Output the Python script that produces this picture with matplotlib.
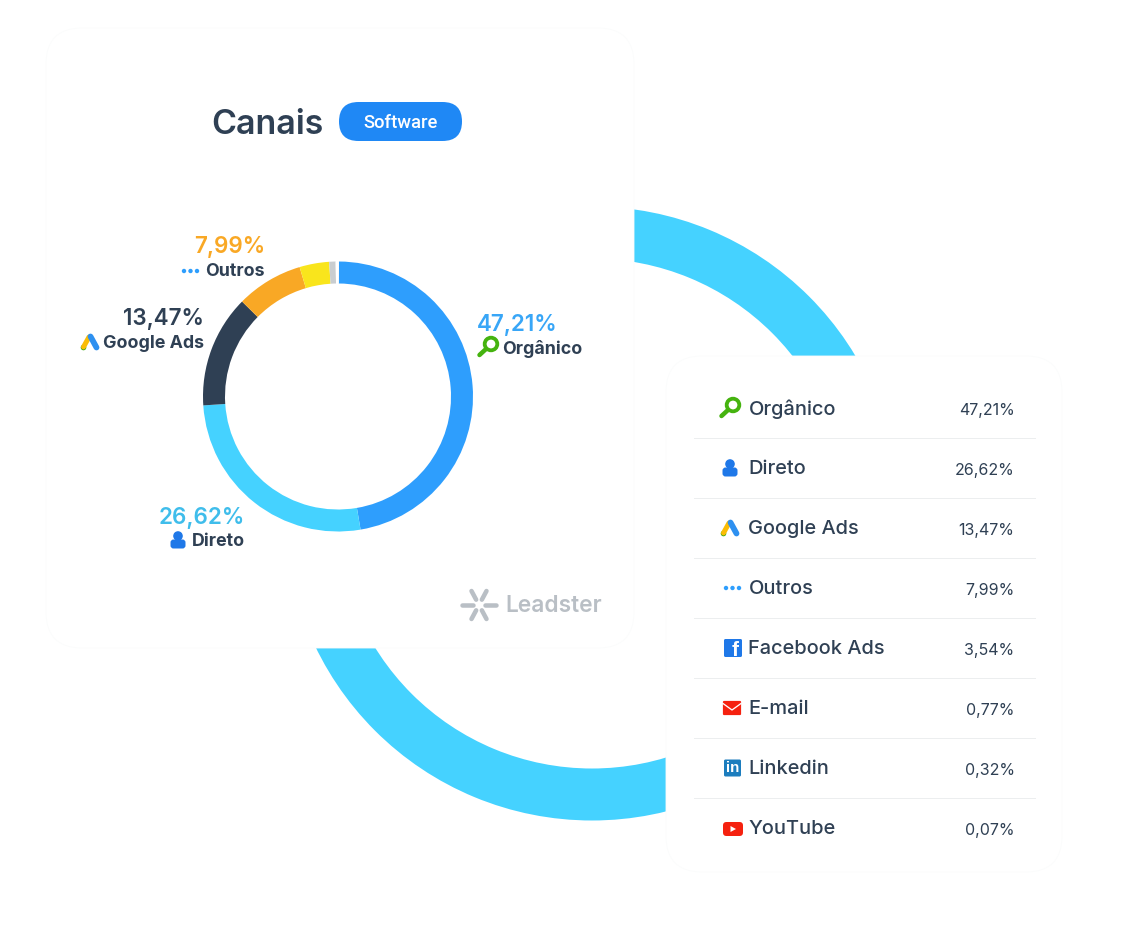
# Canais donut + table, drawn on a pixel-sized overlay
import matplotlib
matplotlib.use("Agg")
import matplotlib.pyplot as plt
from matplotlib.patches import FancyBboxPatch, Circle, Rectangle, Polygon

# data
canais = ["Orgânico", "Direto", "Google Ads", "Outros", "Facebook Ads", "E-mail", "Linkedin", "YouTube"]
valores = [47.21, 26.62, 13.47, 7.99, 3.54, 0.77, 0.32, 0.07]
rotulos = ["47,21%", "26,62%", "13,47%", "7,99%", "3,54%", "0,77%", "0,32%", "0,07%"]
cores = ["#2E9EFD", "#45D2FF", "#2F4054", "#F9A825", "#F9E51C", "#C9CDD0", "#FFFFFF", "#FFFFFF"]

W, H = 1148, 944
ESCURO = "#2F4054"
FONTE = "Inter"


def px(n):
    return n * 0.72


fig = plt.figure(figsize=(W / 100, H / 100), dpi=100, facecolor="white")


def eixo_pixel(cx, cy, r):
    a = fig.add_axes([(cx - r) / W, 1 - (cy + r) / H, 2 * r / W, 2 * r / H])
    a.axis("off")
    return a


def trava(a):
    # pie() resets the limits, put them back so radius 1 fills the axes
    a.set_xlim(-1, 1)
    a.set_ylim(-1, 1)


# big decorative ring goes behind the cards
fundo = eixo_pixel(592, 513.5, 307)
fundo.pie([1], colors=["#45D2FF"], radius=1, wedgeprops=dict(width=52 / 307))
trava(fundo)

ax = fig.add_axes([0, 0, 1, 1])
ax.set_xlim(0, W)
ax.set_ylim(H, 0)
ax.axis("off")
ax.patch.set_alpha(0)

for x0, y0, x1, y1 in [(46, 28, 634, 648), (666, 356, 1062, 872)]:
    ax.add_patch(FancyBboxPatch((x0 + 36, y0 + 36), x1 - x0 - 72, y1 - y0 - 72,
                                boxstyle="round,pad=36,rounding_size=36",
                                fc="white", ec="#FBFCFC", lw=0.6))

# donut
donut = eixo_pixel(338, 396.5, 135)
donut.patch.set_alpha(0)
donut.pie(valores, colors=cores, startangle=89.6, counterclock=False, radius=1,
          wedgeprops=dict(width=22 / 135))
trava(donut)

# title and pill
ax.text(211, 124.5, "Canais", fontsize=px(34), color=ESCURO, family=FONTE, weight="semibold", va="center")
ax.add_patch(FancyBboxPatch((358.5, 121.5), 84, 0, boxstyle="round,pad=19.5,rounding_size=19.5",
                            fc="#1F88F5", ec="none"))
ax.text(400.5, 123.5, "Software", fontsize=px(18.5), color="white", family="Roboto", weight="medium",
        ha="center", va="center")


# icons
def lupa(x, y):
    ax.add_patch(Circle((x + 3, y - 3), 6.3, fc="none", ec="#45B30F", lw=px(3.8)))
    ax.plot([x - 8.5, x - 2], [y + 8, y + 2], color="#45B30F", lw=px(4.5), solid_capstyle="round")


def pessoa(x, y):
    ax.add_patch(Circle((x, y - 4), 4.8, fc="#1F78E8", ec="none"))
    ax.add_patch(FancyBboxPatch((x - 4.5, y + 2.5), 9, 3,
                                boxstyle="round,pad=3,rounding_size=3", fc="#1F78E8", ec="none"))


def google(x, y):
    ax.plot([x - 1, x - 6.5], [y - 5, y + 5], color="#FBBC04", lw=px(5), solid_capstyle="round")
    ax.plot([x + 0.5, x + 6.5], [y - 5.5, y + 5.5], color="#2E90F0", lw=px(5.8), solid_capstyle="round")
    ax.add_patch(Circle((x - 6.5, y + 5.5), 2.8, fc="#34A80F", ec="none"))


def pontos(x, y):
    for d in (-6.5, 0, 6.5):
        ax.add_patch(Circle((x + d, y), 2.2, fc="#2E9EFD", ec="none"))


def facebook(x, y):
    ax.add_patch(FancyBboxPatch((x - 8, y - 8), 16, 16, boxstyle="round,pad=1,rounding_size=1.5",
                                fc="#1F78E8", ec="none"))
    ax.text(x + 2.5, y + 2, "f", fontsize=px(21), color="white", family="Liberation Sans", weight="bold",
            ha="center", va="center")


def email(x, y):
    ax.add_patch(FancyBboxPatch((x - 8.5, y - 6.5), 17, 13, boxstyle="round,pad=0.6,rounding_size=1.2",
                                fc="#F5210F", ec="none"))
    ax.plot([x - 9, x, x + 9], [y - 4.5, y + 2, y - 4.5], color="white", lw=px(1.3))


def linkedin(x, y):
    ax.add_patch(FancyBboxPatch((x - 7.5, y - 7.5), 15, 15, boxstyle="round,pad=1,rounding_size=1.5",
                                fc="#1C7DBE", ec="none"))
    ax.text(x, y + 0.5, "in", fontsize=px(15), color="white", family="Liberation Sans", weight="bold",
            ha="center", va="center")


def youtube(x, y):
    ax.add_patch(FancyBboxPatch((x - 6.5, y - 3.5), 13, 7, boxstyle="round,pad=3.5,rounding_size=3.5",
                                fc="#F5210F", ec="none"))
    ax.add_patch(Polygon([(x - 2.5, y - 3), (x - 2.5, y + 3), (x + 3, y)], fc="white", ec="none"))


icones = [(lupa, 730), (pessoa, 730), (google, 730), (pontos, 732.5),
          (facebook, 733), (email, 732), (linkedin, 732.5), (youtube, 733)]

# labels next to the donut
etiquetas = [
    (0, 477, 323, 502, 348, "left", "#38A6F7"),
    (1, 245, 516, 245, 541, "right", "#3FBDEB"),
    (2, 204, 317, 204, 342, "right", ESCURO),
    (3, 265, 245, 265, 270, "right", "#F9A825"),
]
for i, xv, yv, xn, yn, al, cor in etiquetas:
    ax.text(xv, yv + 2, rotulos[i], fontsize=px(22.4), color=cor, family=FONTE, weight="semibold", ha=al, va="center")
    ax.text(xn, yn + 1, canais[i], fontsize=px(17.8), color=ESCURO, family=FONTE, weight="bold", ha=al, va="center")
lupa(488, 347)
pessoa(178, 540)
google(90, 342)
pontos(190.5, 271)

# table
for i, (nome, rot) in enumerate(zip(canais, rotulos)):
    y = 408 + 60 * i
    func, xi = icones[i]
    func(xi, y if func is not youtube else y + 1)
    ax.text(748.5, y + 1.5, nome, fontsize=px(20), color=ESCURO, family=FONTE, weight="medium", va="center")
    ax.text(1014.5, y + 3, rot, fontsize=px(16), color=ESCURO, family=FONTE, weight="normal", ha="right", va="center")
    if i < len(canais) - 1:
        ax.add_patch(Rectangle((694, y + 30), 342, 1.3, fc="#ECEEEF", ec="none"))

# Leadster logo
CINZA = "#B9BFC5"
for dx, dy in [(-7.5, -14), (7.5, -14), (-17, 0), (17, 0), (-7.5, 14), (7.5, 14)]:
    ax.plot([479 + dx * 0.38, 479 + dx], [605 + dy * 0.38, 605 + dy], color=CINZA, lw=px(4.5), solid_capstyle="round")
ax.text(505, 606, "Leadster", fontsize=px(22.7), color=CINZA, family=FONTE, weight="semibold", va="center")

fig.savefig("out.png", dpi=100, facecolor="white")
